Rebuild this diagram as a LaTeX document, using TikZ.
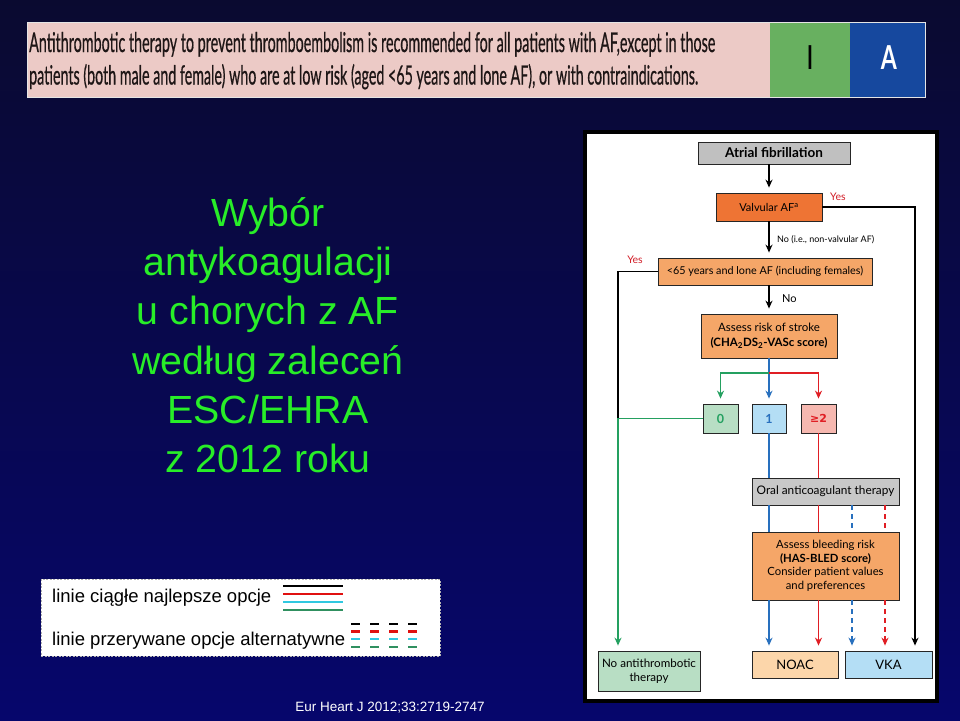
\documentclass[tikz,border=0pt]{standalone}
\usepackage{fontspec}
\usepackage{graphicx}
\setmainfont{Liberation Sans}
\newfontfamily\fc{Lato}
\newfontfamily\fcb[FakeBold=0.9]{Lato}
\newfontfamily\djv{DejaVu Sans}
\usetikzlibrary{arrows.meta}
\definecolor{bgtop}{RGB}{10,10,48}
\definecolor{bgbot}{RGB}{6,6,108}
\definecolor{ttlgreen}{RGB}{40,238,40}
\definecolor{bannerpink}{RGB}{236,202,198}
\definecolor{bannergreen}{RGB}{104,176,96}
\definecolor{bannerblue}{RGB}{22,72,158}
\definecolor{bannertext}{RGB}{30,22,22}
\definecolor{gray1}{RGB}{192,192,192}
\definecolor{gray2}{RGB}{200,200,200}
\definecolor{orange1}{RGB}{238,116,52}
\definecolor{orange2}{RGB}{245,166,104}
\definecolor{noacfill}{RGB}{252,214,170}
\definecolor{bluefill}{RGB}{180,222,245}
\definecolor{greenfill}{RGB}{184,222,196}
\definecolor{redfill}{RGB}{246,184,176}
\definecolor{fgreen}{RGB}{36,160,96}
\definecolor{fblue}{RGB}{40,112,190}
\definecolor{fred}{RGB}{224,30,36}
\definecolor{yesred}{RGB}{210,30,40}
\definecolor{lgred}{RGB}{224,16,16}
\definecolor{lgcyan}{RGB}{48,200,224}
\definecolor{lggreen}{RGB}{48,144,96}
\begin{document}
\begin{tikzpicture}[x=1pt,y=-1pt,
  fbox/.style={draw=black!85, line width=0.8pt, inner sep=0pt, align=center,
    font=\fc\fontsize{11.2}{13}\selectfont},
  arr/.style={-{Stealth[length=8pt,width=7pt]}, shorten >=5pt},
  ln/.style={line width=1.3pt},
  dsh/.style={dash pattern=on 5pt off 4pt},
  ttl/.style={anchor=base, inner sep=0pt, text=ttlgreen, font=\fontsize{39.3}{39.3}\selectfont},
  lgtext/.style={anchor=base west, inner sep=0pt, text=black, font=\fontsize{18.5}{18.5}\selectfont},
  lgline/.style={line width=2.5pt},
  lgdash/.style={line width=2.5pt, dash pattern=on 8.5pt off 10.5pt},
  yes/.style={text=yesred, inner sep=0pt, font=\fc\fontsize{10.5}{12}\selectfont}]
\useasboundingbox (0,0) rectangle (960,720);
\shade[top color=bgtop, bottom color=bgbot] (0,0) rectangle (960,720);

% banner
\fill[bannerpink] (27,22) rectangle (770,97);
\fill[bannergreen] (770,22) rectangle (850,97);
\fill[bannerblue] (850,22) rectangle (925,97);
\draw[white!80!gray, line width=0.6pt] (27,22) rectangle (925,97);
\node[anchor=base west, inner sep=0pt, text=bannertext] (b1) at (29,52)
  {\resizebox{686pt}{20pt}{\fcb\fontsize{23}{23}\selectfont Antithrombotic therapy to prevent thromboembolism is recommended for all patients with AF,except in those}};
\node[anchor=base west, inner sep=0pt, text=bannertext] (b2) at (29,84.5)
  {\resizebox{669pt}{20.5pt}{\fcb\fontsize{23}{23}\selectfont patients (both male and female) who are at low risk (aged <65 years and lone AF), or with contraindications.}};
\node[inner sep=0pt, text=black] (cls) at (810,58) {\scalebox{0.6}[1]{\fc\bfseries\fontsize{33}{33}\selectfont I}};
\node[inner sep=0pt, text=white] (lvl) at (889,58) {\scalebox{0.7}[1]{\fc\bfseries\fontsize{33}{33}\selectfont A}};

% title
\node[ttl] (t1) at (268,226.5) {Wybór};
\node[ttl] (t2) at (268,275.7) {antykoagulacji};
\node[ttl] (t3) at (268,324.9) {u chorych z AF};
\node[ttl] (t4) at (268,374.1) {według zaleceń};
\node[ttl] (t5) at (268,423.3) {ESC/EHRA};
\node[ttl] (t6) at (268,472.5) {z 2012 roku};

% legend
\draw[fill=white, draw=gray!60, line width=0.7pt, dash pattern=on 2pt off 1.5pt] (41,579) rectangle (440,656);
\node[lgtext] (lg1) at (52,602) {linie ciągłe najlepsze opcje};
\node[lgtext] (lg2) at (52,645) {linie przerywane opcje alternatywne};
\draw[lgline, black] (283,586) -- (343,586);
\draw[lgline, lgred] (283,594) -- (343,594);
\draw[lgline, lgcyan] (283,602) -- (343,602);
\draw[lgline, lggreen] (283,610) -- (343,610);
\draw[lgdash, black] (351,624) -- (419,624);
\draw[lgdash, lgred] (351,631.5) -- (419,631.5);
\draw[lgdash, lgcyan] (351,639) -- (419,639);
\draw[lgdash, lggreen] (351,647) -- (419,647);

% citation
\node[anchor=base, inner sep=0pt, text=white, font=\fontsize{13.5}{13.5}\selectfont] (cite) at (390,711) {Eur Heart J 2012;33:2719-2747};

% panel
\fill[black] (583,130) rectangle (939,703);
\fill[white] (587,134) rectangle (935,699);

% flowchart boxes
\node[fbox, fill=gray1, minimum width=152pt, minimum height=22pt, font=\fc\bfseries\fontsize{13.5}{15}\selectfont] (af) at (774,153) {Atrial fibrillation};
\node[fbox, fill=orange1, minimum width=106pt, minimum height=28pt, font=\fc\fontsize{11}{12}\selectfont] (valv) at (769,207) {Valvular AF\textsuperscript{a}};
\node[fbox, fill=orange2, minimum width=214pt, minimum height=27pt, font=\fc\fontsize{10.8}{12}\selectfont] (lone) at (765,271.5) {<65 years and lone AF (including females)};
\node[fbox, fill=orange2, minimum width=136pt, minimum height=44pt, font=\fc\fontsize{11.5}{15}\selectfont] (stroke) at (769,336) {Assess risk of stroke\\\textbf{(CHA\textsubscript{2}DS\textsubscript{2}-VASc score)}};
\node[fbox, fill=greenfill, minimum width=35pt, minimum height=29pt, text=fgreen, font=\fc\bfseries\fontsize{12.5}{13}\selectfont] (s0) at (720.5,418.5) {0};
\node[fbox, fill=bluefill, minimum width=34pt, minimum height=29pt, text=fblue, font=\fc\bfseries\fontsize{12.5}{13}\selectfont] (s1) at (769,418.5) {1};
\node[fbox, fill=redfill, minimum width=35pt, minimum height=29pt, text=fred, font=\djv\bfseries\fontsize{11}{13}\selectfont] (s2) at (818.5,418.5) {≥2};
\node[fbox, fill=gray2, minimum width=147pt, minimum height=27pt, font=\fc\fontsize{11.8}{13}\selectfont] (oac) at (825.5,491.5) {Oral anticoagulant therapy};
\node[fbox, fill=orange2, minimum width=147pt, minimum height=68pt, font=\fc\fontsize{11.3}{13.5}\selectfont] (has) at (825.5,566) {Assess bleeding risk\\\textbf{(HAS-BLED score)}\\Consider patient values\\and preferences};
\node[fbox, fill=noacfill, minimum width=86pt, minimum height=27pt, font=\fc\fontsize{13}{14}\selectfont] (noac) at (795,664.5) {NOAC};
\node[fbox, fill=bluefill, minimum width=87pt, minimum height=27pt, font=\fc\fontsize{13}{14}\selectfont] (vka) at (888.5,664.5) {VKA};
\node[fbox, fill=greenfill, minimum width=102pt, minimum height=40pt, font=\fc\fontsize{11.6}{14}\selectfont] (noat) at (649,671) {No antithrombotic\\therapy};

% helper coordinates
\coordinate (xl) at (618,0);
\coordinate (xk) at (915,0);
\coordinate (sp) at (769,373);
\coordinate (cb) at (769,0);
\coordinate (cr) at (818.5,0);
\coordinate (cbd) at (852,0);
\coordinate (crd) at (885,0);

% connectors
\draw[ln, arr] (af.south -| valv.north) -- (valv.north);
\draw[ln, arr] (valv.east) -| (xk |- vka.north);
\node[yes, anchor=south west] (yes1) at (830,201) {Yes};
\draw[ln, arr] (valv.south) -- (valv.south |- lone.north);
\node[anchor=west, inner sep=0pt, font=\fc\fontsize{9}{10}\selectfont] (nolab1) at (777,239.5) {No (i.e., non-valvular AF)};
\draw[ln] (lone.west) -| (xl |- s0.west);
\node[yes, anchor=south] (yes2) at (635,264) {Yes};
\draw[ln, arr] (lone.south -| stroke.north) -- (stroke.north);
\node[anchor=west, inner sep=0pt, font=\fc\fontsize{11}{12}\selectfont] (nolab2) at (782,299) {No};

\draw[ln, fblue, arr] (stroke.south) -- (s1.north);
\draw[ln, fgreen, arr] (sp) -| (s0.north);
\draw[ln, fred, arr] (sp) -| (s2.north);
\draw[ln, fgreen, arr] (s0.west) -| (xl |- noat.north);

\draw[ln, fblue] (s1.south) -- (s1.south |- oac.north);
\draw[ln, fred] (s2.south) -- (s2.south |- oac.north);

\draw[ln, fblue] (cb |- oac.south) -- (cb |- has.north);
\draw[ln, fred] (cr |- oac.south) -- (cr |- has.north);
\draw[ln, fblue, dsh] (cbd |- oac.south) -- (cbd |- has.north);
\draw[ln, fred, dsh] (crd |- oac.south) -- (crd |- has.north);

\draw[ln, fblue, arr] (cb |- has.south) -- (cb |- noac.north);
\draw[ln, fred, arr] (cr |- has.south) -- (cr |- noac.north);
\draw[ln, fblue, dsh, arr] (cbd |- has.south) -- (cbd |- vka.north);
\draw[ln, fred, dsh, arr] (crd |- has.south) -- (crd |- vka.north);
\end{tikzpicture}
\end{document}
